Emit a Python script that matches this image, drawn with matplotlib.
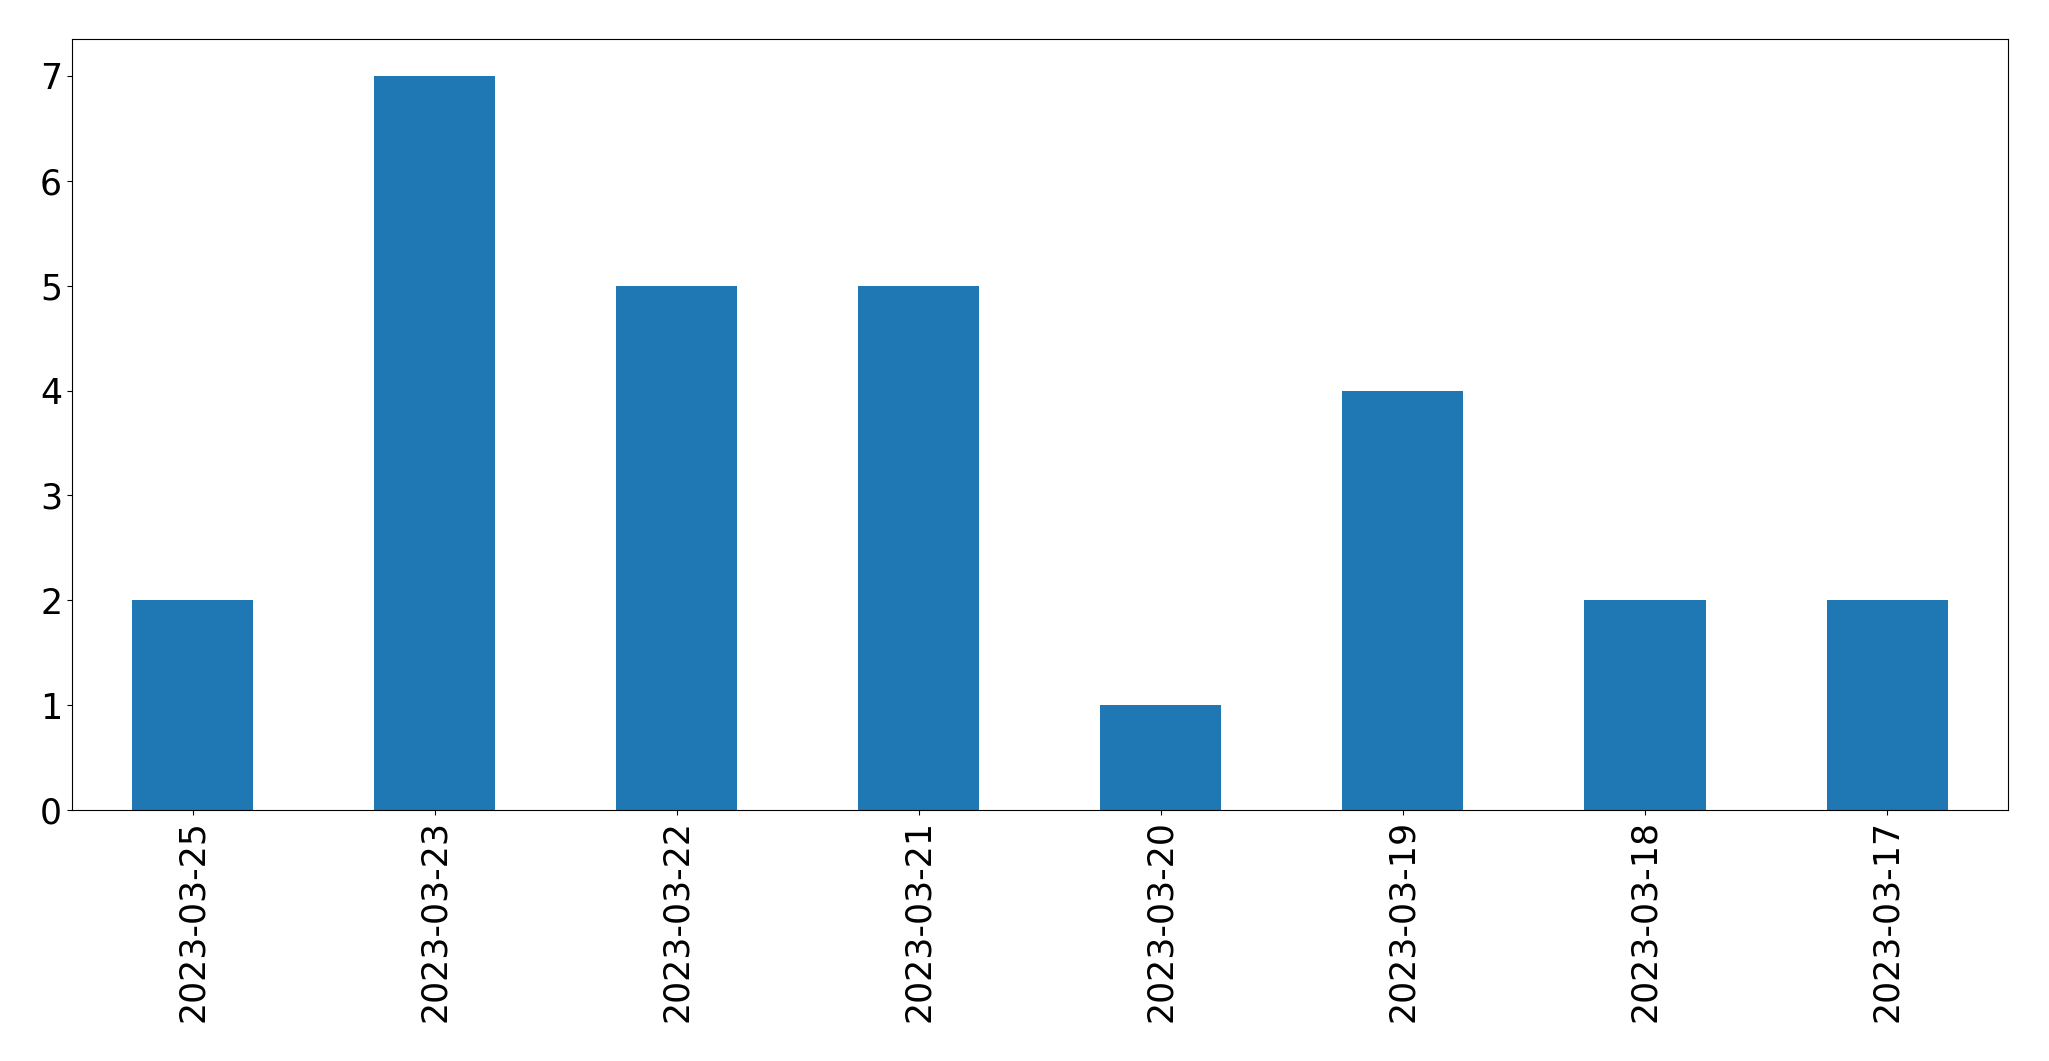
import matplotlib
matplotlib.use("Agg")
import matplotlib.pyplot as plt

dates = ["2023-03-25", "2023-03-23", "2023-03-22", "2023-03-21",
         "2023-03-20", "2023-03-19", "2023-03-18", "2023-03-17"]
counts = [2, 7, 5, 5, 1, 4, 2, 2]

fig = plt.figure(figsize=(20.49, 10.61), dpi=100)
ax = fig.add_axes([0.0351, 0.2366, 0.9449, 0.7264])

x = range(len(dates))
ax.bar(x, counts, width=0.5, color="#1f77b4")
ax.set_xlim(-0.5, len(dates) - 0.5)
ax.set_ylim(0, max(counts) * 1.05)
ax.set_xticks(list(x))
ax.set_xticklabels(dates, rotation=90)
ax.tick_params(labelsize=25)

fig.savefig("out.png", dpi=100)
